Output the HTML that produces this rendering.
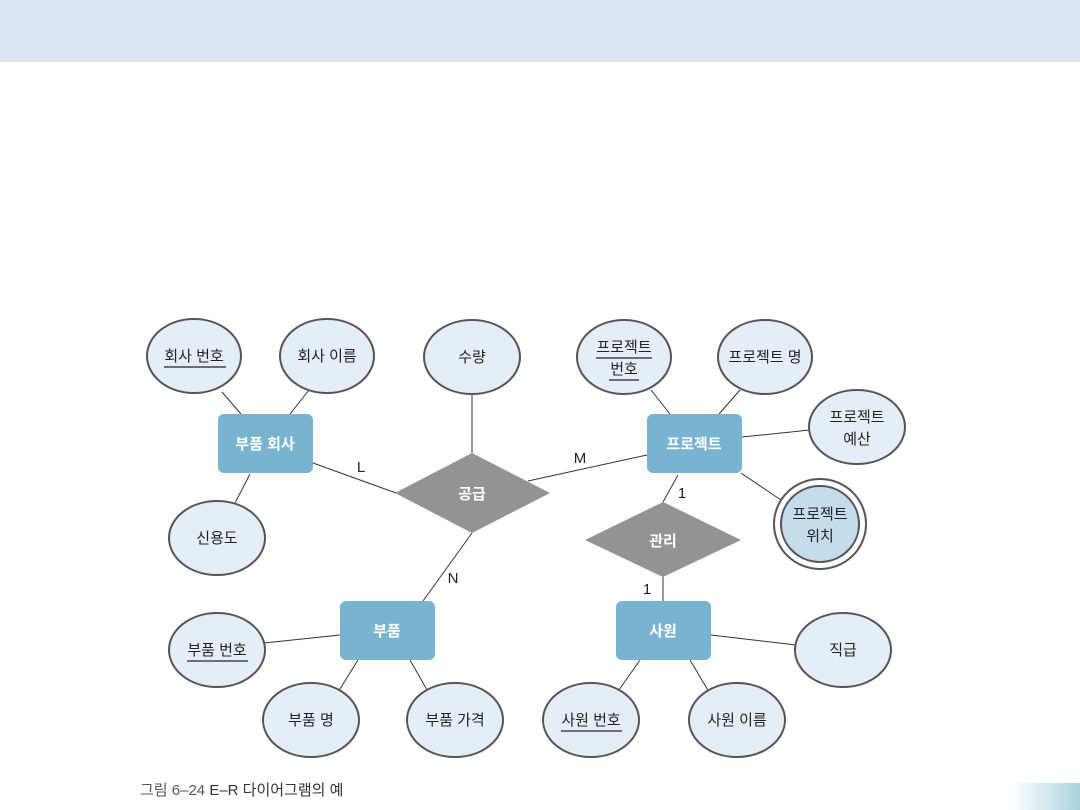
<!DOCTYPE html>
<html><head><meta charset="utf-8"><style>
html,body{margin:0;padding:0;background:#fff;}
svg{display:block;}
text{font-family:"Liberation Sans","Noto Sans CJK KR",sans-serif;}
</style></head><body>
<svg width="1080" height="810" xmlns="http://www.w3.org/2000/svg">
<defs><linearGradient id="g" x1="0" x2="1"><stop offset="0" stop-color="#fff"/><stop offset="1" stop-color="#a9d3e0"/></linearGradient></defs>
<rect x="0" y="0" width="1080" height="62" fill="#dce6f1"/>
<rect x="1010" y="783" width="70" height="27" fill="url(#g)"/>
<g stroke="#333" stroke-width="1" fill="none">
<line x1="222" y1="392" x2="241" y2="414"/>
<line x1="309" y1="390" x2="290" y2="414"/>
<line x1="250" y1="474" x2="235" y2="503"/>
<line x1="313" y1="463" x2="396" y2="493"/>
<line x1="472" y1="394" x2="472" y2="453"/>
<line x1="528" y1="481" x2="647" y2="455"/>
<line x1="472" y1="533" x2="423" y2="601"/>
<line x1="651" y1="390" x2="670" y2="414"/>
<line x1="740" y1="390" x2="719" y2="414"/>
<line x1="742" y1="437" x2="810" y2="430"/>
<line x1="741" y1="473" x2="781" y2="500"/>
<line x1="678" y1="475" x2="663" y2="502"/>
<line x1="663" y1="577" x2="663" y2="601"/>
<line x1="264" y1="643" x2="340" y2="635"/>
<line x1="335" y1="697" x2="358" y2="660"/>
<line x1="431" y1="697" x2="410" y2="660"/>
<line x1="614" y1="697" x2="640" y2="660"/>
<line x1="712" y1="697" x2="690" y2="660"/>
<line x1="711" y1="635" x2="796" y2="645"/>
</g>
<g fill="#e5eef6" stroke="#555" stroke-width="2">
<ellipse cx="194" cy="356" rx="47" ry="37"/>
<ellipse cx="327" cy="356" rx="47" ry="37"/>
<ellipse cx="472" cy="357" rx="48" ry="37"/>
<ellipse cx="624" cy="357" rx="47" ry="37"/>
<ellipse cx="765" cy="357" rx="47" ry="37"/>
<ellipse cx="857" cy="427" rx="48" ry="37"/>
<ellipse cx="217" cy="538" rx="48" ry="37"/>
<ellipse cx="217" cy="650" rx="48" ry="37"/>
<ellipse cx="311" cy="720" rx="48" ry="37"/>
<ellipse cx="455" cy="720" rx="48" ry="37"/>
<ellipse cx="591" cy="720" rx="48" ry="37"/>
<ellipse cx="737" cy="720" rx="48" ry="37"/>
<ellipse cx="843" cy="650" rx="48" ry="37"/>
<ellipse cx="820" cy="524" rx="46" ry="45" fill="#fff"/>
<ellipse cx="820" cy="524" rx="39" ry="38" fill="#c5dceb"/>
</g>
<g fill="#78b4d2">
<rect x="218" y="414" width="95" height="59" rx="6"/>
<rect x="647" y="414" width="95" height="59" rx="6"/>
<rect x="340" y="601" width="95" height="59" rx="6"/>
<rect x="616" y="601" width="95" height="59" rx="6"/>
</g>
<g fill="#939393">
<polygon points="395,493 472,453 550,493 472,533"/>
<polygon points="585,540 663,502 741,540 663,577"/>
</g>
<g font-size="15" fill="#fff" font-weight="bold" text-anchor="middle">
<text x="265" y="449">부품 회사</text>
<text x="694" y="449">프로젝트</text>
<text x="387" y="636">부품</text>
<text x="663" y="636">사원</text>
<text x="472" y="499">공급</text>
<text x="663" y="546">관리</text>
</g>
<g font-size="15" fill="#222" text-anchor="middle">
<text x="194" y="361">회사 번호</text>
<text x="327" y="361">회사 이름</text>
<text x="472" y="362">수량</text>
<text x="624" y="352">프로젝트</text>
<text x="624" y="374">번호</text>
<text x="765" y="362">프로젝트 명</text>
<text x="857" y="422">프로젝트</text>
<text x="857" y="444">예산</text>
<text x="820" y="519">프로젝트</text>
<text x="820" y="541">위치</text>
<text x="217" y="543">신용도</text>
<text x="217" y="655">부품 번호</text>
<text x="311" y="725">부품 명</text>
<text x="455" y="725">부품 가격</text>
<text x="591" y="725">사원 번호</text>
<text x="737" y="725">사원 이름</text>
<text x="843" y="655">직급</text>
<text x="361" y="472">L</text>
<text x="580" y="463">M</text>
<text x="453" y="583">N</text>
<text x="682" y="498">1</text>
<text x="647" y="594">1</text>
</g>
<g stroke="#222" stroke-width="1.2">
<line x1="164" y1="367" x2="226" y2="367"/>
<line x1="596" y1="358" x2="652" y2="358"/>
<line x1="609" y1="380" x2="639" y2="380"/>
<line x1="187" y1="661" x2="248" y2="661"/>
<line x1="561" y1="731" x2="622" y2="731"/>
</g>
<text x="140" y="795" font-size="15" fill="#555">그림 6–24  <tspan fill="#333">E–R 다이어그램의 예</tspan></text>
</svg>
</body></html>
